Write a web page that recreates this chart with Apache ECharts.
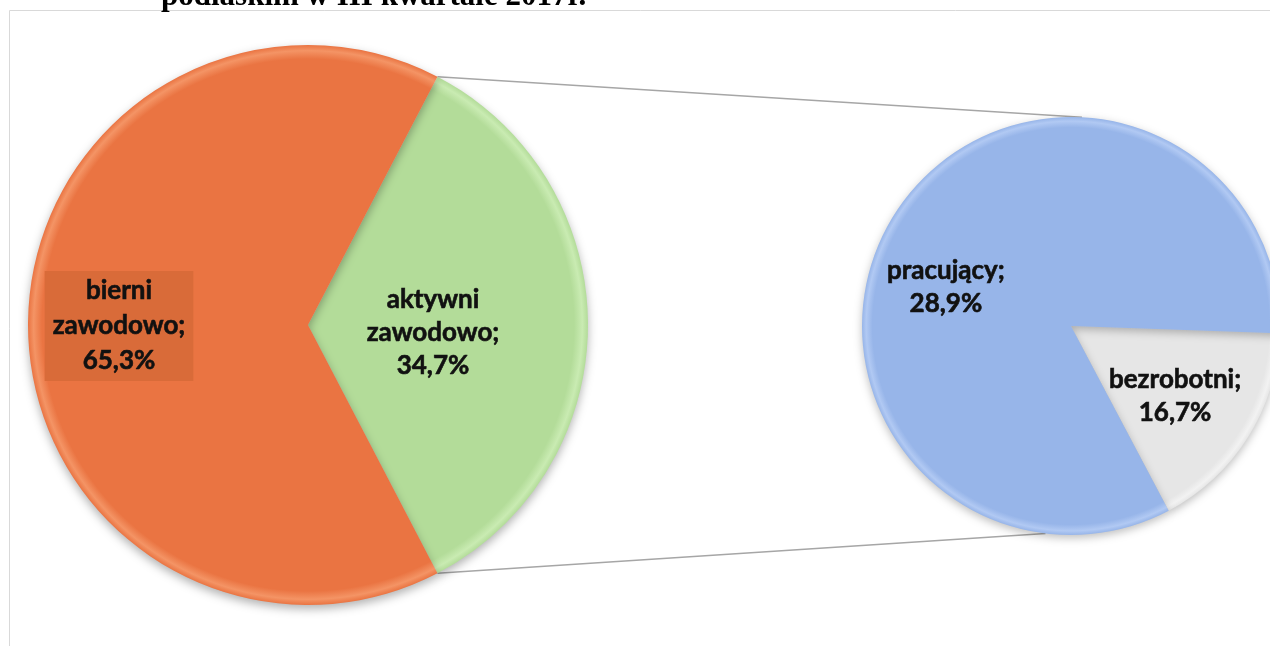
<!DOCTYPE html>
<html>
<head>
<meta charset="utf-8">
<script src="https://cdn.jsdelivr.net/npm/echarts@6/dist/echarts.min.js"></script>
<style>
  html, body { margin: 0; padding: 0; background: #fff; }
  #chart { width: 1270px; height: 646px; }
</style>
</head>
<body>
<div id="chart"></div>
<script>
// main pie: share of population 15+
const mainNames = ['aktywni\nzawodowo', 'bierni\nzawodowo']
const mainValues = [34.7, 65.3]
const mainLabels = ['34,7%', '65,3%']

// second pie: split of the active group
const subNames = ['bezrobotni', 'pracujący']
const subValues = [16.7, 83.3]
const subLabels = ['16,7%', '28,9%']

const titleText = 'podlaskim w III kwartale 2017r.'

const mainCenter = [308, 325]
const mainR = 280
const subCenter = [1071, 326]
const subR = 209

const mainColors = ['#b3dc99', '#ea7442']
const mainEdge = ['#c9ebb2', '#f49465']
const subColors = ['#e6e6e6', '#97b5e9']
const subEdge = ['#f2f2f2', '#b1c9f3']

function fill(center, r, base, edge) {
  return new echarts.graphic.RadialGradient(center[0], center[1], r, [
    { offset: 0, color: base },
    { offset: 0.95, color: base },
    { offset: 0.98, color: edge },
    { offset: 1, color: base }
  ], true)
}

// first slice of the main pie sits centred on the right side
const mainStart = mainValues[0] / 100 * 360 / 2
const subStart = -2

function pt(center, r, deg) {
  const a = deg * Math.PI / 180
  return [center[0] + r * Math.cos(a), center[1] - r * Math.sin(a)]
}

const topA = pt(mainCenter, mainR, mainStart)
const botA = pt(mainCenter, mainR, -mainStart)
const topB = pt(subCenter, subR, 87)
const botB = pt(subCenter, subR, -97)

const labelFont = {
  fontFamily: 'Lato',
  fontWeight: 'bold',
  fontSize: 26,
  lineHeight: 35,
  color: '#111',
  textBorderColor: '#111',
  textBorderWidth: 0.6
}

const chart = echarts.init(document.getElementById('chart'))
chart.setOption({
  animation: false,
  graphic: [
    {
      type: 'rect',
      shape: { x: 9.5, y: 10.5, width: 1300, height: 700 },
      style: { fill: 'none', stroke: '#d9d9d9', lineWidth: 1 },
      z: 0
    },
    {
      type: 'text',
      left: 161,
      top: -19,
      style: {
        text: titleText,
        font: 'bold 31px "Liberation Serif"',
        fill: '#000'
      }
    },
    {
      type: 'line',
      shape: { x1: topA[0], y1: topA[1], x2: topB[0], y2: topB[1] },
      style: { stroke: '#a6a6a6', lineWidth: 1.5 },
      z: 1
    },
    {
      type: 'line',
      shape: { x1: botA[0], y1: botA[1], x2: botB[0], y2: botB[1] },
      style: { stroke: '#a6a6a6', lineWidth: 1.5 },
      z: 1
    }
  ],
  series: [
    {
      type: 'pie',
      center: mainCenter,
      radius: mainR,
      startAngle: mainStart,
      clockwise: true,
      z: 3,
      itemStyle: {
        shadowBlur: 10,
        shadowOffsetY: 4,
        shadowColor: 'rgba(0,0,0,0.3)'
      },
      label: Object.assign({ position: 'inside' }, labelFont),
      labelLine: { show: false },
      emphasis: { disabled: true },
      data: mainValues.map((v, i) => ({
        value: v,
        name: mainNames[i],
        itemStyle: { color: fill(mainCenter, mainR, mainColors[i], mainEdge[i]) },
        label: i === 1
          ? { offset: [-46, 1], backgroundColor: '#d96b39', padding: [4, 8, 1, 8],
              formatter: p => p.name + ';\n' + mainLabels[i] }
          : { offset: [-18, 8], lineHeight: 33, formatter: p => p.name + ';\n' + mainLabels[i] }
      }))
    },
    {
      type: 'pie',
      center: subCenter,
      radius: subR,
      startAngle: subStart,
      clockwise: true,
      z: 3,
      itemStyle: {
        shadowBlur: 8,
        shadowOffsetY: 3,
        shadowColor: 'rgba(0,0,0,0.25)'
      },
      label: Object.assign({ position: 'inside' }, labelFont, { lineHeight: 33 }),
      labelLine: { show: false },
      emphasis: { disabled: true },
      data: subValues.map((v, i) => ({
        value: v,
        name: subNames[i],
        itemStyle: { color: fill(subCenter, subR, subColors[i], subEdge[i]) },
        label: {
          offset: i === 0 ? [13, 13] : [-34, 18],
          formatter: p => p.name + ';\n' + subLabels[i]
        }
      }))
    }
  ]
})
</script>
</body>
</html>
